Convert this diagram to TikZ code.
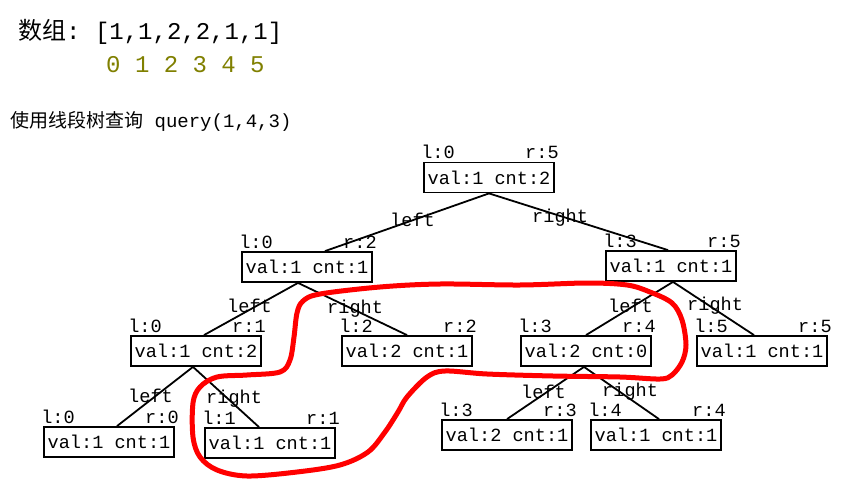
\documentclass[tikz,border=0pt]{standalone}
\usepackage{fontspec}
\setmonofont{Liberation Mono}
\newfontfamily\cjk{Noto Sans CJK SC}
\definecolor{idxolive}{RGB}{128,128,0}
\tikzset{
  segbox/.style={draw, line width=1.8pt, minimum width=130pt, minimum height=30pt, inner sep=0pt,
    font=\fontsize{18.6}{22}\selectfont\ttfamily},
  lbl/.style={inner sep=0pt, font=\fontsize{18.6}{22}\selectfont\ttfamily},
  edge/.style={line width=1.8pt},
  loop/.style={red, line width=5pt, line join=round}
}
\newcommand\segnode[6]{%
  \node[segbox] (#1) at (#2,#3) {#4};
  \node[lbl, anchor=base west] (#1-l) at ([xshift=-2pt,yshift=3pt]#1.north west) {#5};
  \node[lbl, anchor=base east] (#1-r) at ([xshift=4pt,yshift=3pt]#1.north east) {#6};
}
\begin{document}
\begin{tikzpicture}[x=1pt,y=-1pt]
\useasboundingbox (0,0) rectangle (856,492);
\fill[white] (0,0) rectangle (856,492);
% title lines
\node[inner sep=0pt, anchor=base west, font=\fontsize{24}{28}\selectfont] (title) at (18,40)
  {{\cjk 数组}\texttt{: [1,1,2,2,1,1]}};
\node[inner sep=0pt, anchor=base west, text=idxolive, font=\fontsize{24}{28}\selectfont\ttfamily] (idx) at (106,73)
  {0 1 2 3 4 5};
\node[inner sep=0pt, anchor=base west, font=\fontsize{19}{23}\selectfont] (sub) at (10,128)
  {{\cjk 使用线段树查询}\texttt{ query(1,4,3)}};
% nodes
\segnode{root}{489}{177.5}{val:1 cnt:2}{l:0}{r:5}
\segnode{L}{307}{267}{val:1 cnt:1}{l:0}{r:2}
\segnode{R}{671}{266}{val:1 cnt:1}{l:3}{r:5}
\segnode{A}{196}{351}{val:1 cnt:2}{l:0}{r:1}
\segnode{B}{407}{351}{val:2 cnt:1}{l:2}{r:2}
\segnode{C}{586}{351}{val:2 cnt:0}{l:3}{r:4}
\segnode{D}{762}{351}{val:1 cnt:1}{l:5}{r:5}
\segnode{E}{109}{442}{val:1 cnt:1}{l:0}{r:0}
\segnode{F}{270}{443}{val:1 cnt:1}{l:1}{r:1}
\segnode{G}{507}{435}{val:2 cnt:1}{l:3}{r:3}
\segnode{H}{656}{435}{val:1 cnt:1}{l:4}{r:4}
% edges
\draw[edge] (root.south) -- ([xshift=18pt]L.north);
\draw[edge] (root.south) -- ([xshift=-3pt]R.north);
\draw[edge] ([xshift=-9pt]L.south) -- ([xshift=8pt]A.north);
\draw[edge] ([xshift=-9pt]L.south) -- (B.north);
\draw[edge] ([xshift=-3pt]A.south) -- ([xshift=8pt]E.north);
\draw[edge] ([xshift=-3pt]A.south) -- ([xshift=-11pt]F.north);
\draw[edge] ([xshift=2pt]R.south) -- (C.north);
\draw[edge] ([xshift=2pt]R.south) -- ([xshift=-8pt]D.north);
\draw[edge] ([xshift=-2pt]C.south) -- (G.north);
\draw[edge] ([xshift=-2pt]C.south) -- ([xshift=3pt]H.north);
% edge labels
\node[lbl, anchor=base west] (e1) at (390,226) {left};
\node[lbl, anchor=base west] (e2) at (532,222) {right};
\node[lbl, anchor=base west] (e3) at (227,312) {left};
\node[lbl, anchor=base west] (e4) at (327,313) {right};
\node[lbl, anchor=base west] (e5) at (128,402) {left};
\node[lbl, anchor=base west] (e6) at (206,403) {right};
\node[lbl, anchor=base west] (e7) at (608,312) {left};
\node[lbl, anchor=base west] (e8) at (687,310) {right};
\node[lbl, anchor=base west] (e9) at (521,398) {left};
\node[lbl, anchor=base west] (e10) at (602,396) {right};
% red freehand loop
\draw[loop] plot[smooth cycle, tension=0.55] coordinates {
 (297,313) (303,301) (320,294) (380,287) (440,284) (520,285) (587,283) (627,285)
 (650,292) (672,303) (682,320) (686,345) (682,362) (672,375) (660,379) (620,377)
 (553,376) (487,374) (445,371) (427,377) (407,397) (398,412) (385,432) (368,452)
 (340,465) (297,472) (247,476) (217,470) (200,457) (193,437) (193,403) (200,387)
 (217,377) (247,375) (280,372) (290,360) (294,337)};
\end{tikzpicture}
\end{document}
